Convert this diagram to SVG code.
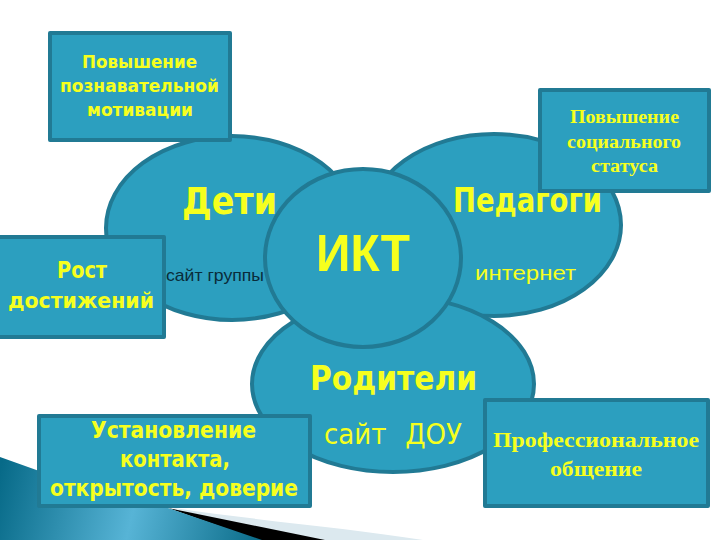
<svg xmlns="http://www.w3.org/2000/svg" width="720" height="540" viewBox="0 0 720 540">
<defs>
<linearGradient id="g" gradientUnits="userSpaceOnUse" x1="0" y1="470" x2="260" y2="530"><stop offset="0" stop-color="#076a88"/><stop offset="0.52" stop-color="#57b4d6"/><stop offset="1" stop-color="#0c6d8a"/></linearGradient>
</defs>
<style>
.n{fill:#2c9fbf;stroke:#217a94;stroke-width:4}
.b{fill:#2c9fbf;stroke:#217a94;stroke-width:4;stroke-linejoin:round}
text{text-anchor:middle;fill:#f6ff1e;font-family:"DejaVu Sans Condensed","DejaVu Sans",sans-serif}
.l{font-family:"Liberation Sans",sans-serif}
.s{font-family:"Liberation Serif",serif;font-weight:bold}
.d{font-weight:bold}
</style>
<rect width="720" height="540" fill="#fff"/>
<g id="background">
<path d="M168 507C250 520 350 528 423 540H300Z" fill="#dce9ef"/>
<path d="M168 508L325 540H258Z" fill="#000"/>
<path d="M0 457L42 472L168 508L262 540H0Z" fill="url(#g)"/>
</g>
<g id="node-children"><ellipse class="n" cx="232" cy="228" rx="126" ry="92"/>
<text x="229.500" y="214" font-size="38" class="d" textLength="95" lengthAdjust="spacingAndGlyphs">Дети</text>
<text x="215" y="281" font-size="17" class="l" style="fill:#0a2c3a" textLength="98" lengthAdjust="spacingAndGlyphs">сайт группы</text></g>
<g id="node-teachers"><ellipse class="n" cx="494" cy="225" rx="127" ry="91"/>
<text x="527.500" y="212" font-size="33" class="d" textLength="149" lengthAdjust="spacingAndGlyphs">Педагоги</text>
<text x="525.500" y="280" font-size="21" class="l" textLength="101" lengthAdjust="spacingAndGlyphs">интернет</text></g>
<g id="node-parents"><ellipse class="n" cx="393" cy="384" rx="141" ry="88"/>
<text x="393.500" y="390" font-size="34" class="d" textLength="167" lengthAdjust="spacingAndGlyphs">Родители</text>
<text x="393" y="444" font-size="28" word-spacing="10" textLength="138" lengthAdjust="spacingAndGlyphs">сайт ДОУ</text></g>
<g id="node-ict"><ellipse class="n" cx="363" cy="258" rx="98" ry="89"/>
<text x="363" y="271" font-size="51" class="l d" textLength="94" lengthAdjust="spacingAndGlyphs">ИКТ</text></g>
<g id="box-motivation"><rect class="b" x="50" y="33" width="180" height="107"/>
<text x="139.500" y="68" font-size="18" class="d" textLength="115" lengthAdjust="spacingAndGlyphs">Повышение</text>
<text x="139.500" y="92" font-size="18" class="d" textLength="159" lengthAdjust="spacingAndGlyphs">познавательной</text>
<text x="140" y="116" font-size="18" class="d" textLength="106" lengthAdjust="spacingAndGlyphs">мотивации</text></g>
<g id="box-status"><rect class="b" x="540" y="90" width="169" height="101"/>
<text x="624.500" y="123" font-size="18" class="s" textLength="109" lengthAdjust="spacingAndGlyphs">Повышение</text>
<text x="624" y="148" font-size="18" class="s" textLength="114" lengthAdjust="spacingAndGlyphs">социального</text>
<text x="624.500" y="172" font-size="18" class="s" textLength="67" lengthAdjust="spacingAndGlyphs">статуса</text></g>
<g id="box-growth"><rect class="b" x="-3" y="237" width="167" height="100"/>
<text x="82" y="278" font-size="23" class="d" textLength="50" lengthAdjust="spacingAndGlyphs">Рост</text>
<text x="81" y="308" font-size="22" class="d" textLength="146" lengthAdjust="spacingAndGlyphs">достижений</text></g>
<g id="box-contact"><rect class="b" x="39" y="416" width="271" height="90"/>
<text x="173.500" y="438" font-size="23" class="d" textLength="165" lengthAdjust="spacingAndGlyphs">Установление</text>
<text x="175" y="467" font-size="23" class="d" textLength="110" lengthAdjust="spacingAndGlyphs">контакта,</text>
<text x="174" y="496" font-size="23" class="d" textLength="248" lengthAdjust="spacingAndGlyphs">открытость, доверие</text></g>
<g id="box-communication"><rect class="b" x="485" y="400" width="223" height="106"/>
<text x="596" y="447" font-size="21" class="s" textLength="206" lengthAdjust="spacingAndGlyphs">Профессиональное</text>
<text x="596" y="476" font-size="21" class="s" textLength="92" lengthAdjust="spacingAndGlyphs">общение</text></g>
<g id="connectors"></g>
</svg>
